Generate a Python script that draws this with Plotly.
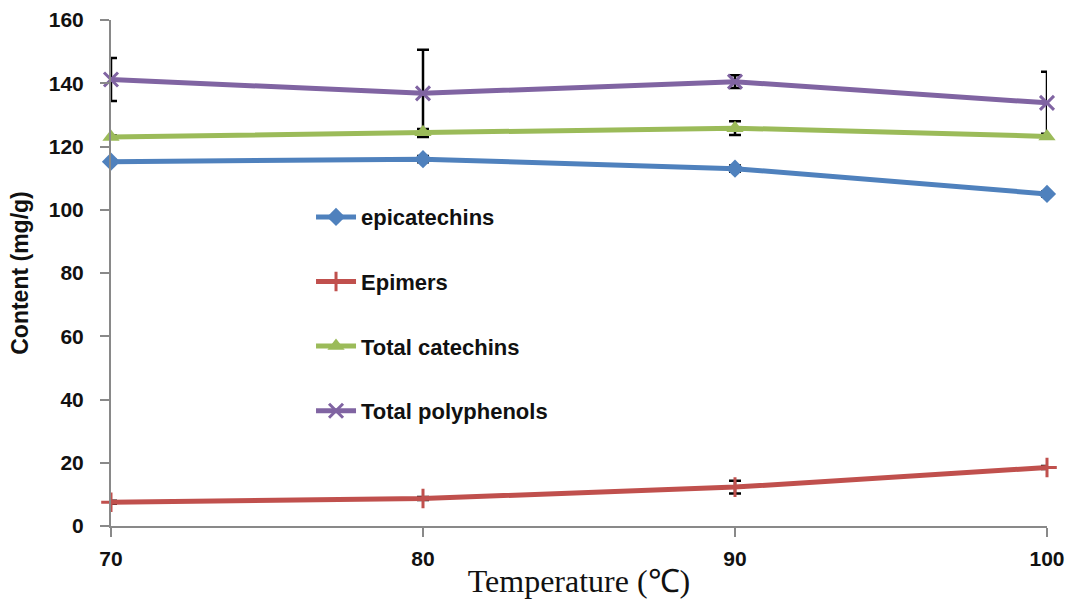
import plotly.graph_objects as go

temps = [70, 80, 90, 100]
epicatechins = [115.2, 116.0, 113.0, 105.0]
epicatechins_err = [0.5, 1.0, 1.0, 0.8]
epimers = [7.5, 8.7, 12.3, 18.5]
epimers_err = [0.5, 0.5, 2.0, 0.5]
total_catechins = [123.0, 124.5, 125.8, 123.2]
total_catechins_err = [0.5, 1.0, 2.2, 0.5]
total_polyphenols = [141.2, 136.8, 140.5, 133.8]
total_polyphenols_err = [6.8, 13.8, 2.0, 9.8]

names = ["epicatechins", "Epimers", "Total catechins", "Total polyphenols"]
series = [epicatechins, epimers, total_catechins, total_polyphenols]
errs = [epicatechins_err, epimers_err, total_catechins_err, total_polyphenols_err]
colors = ["#4F81BD", "#C0504D", "#9BBB59", "#8064A2"]
symbols = ["diamond", "cross-thin", "triangle-up", "x-thin"]
msizes = [14, 14, 15, 14]

fig = go.Figure()

# error bars (clipped to plot area)
for s, e in zip(series, errs):
    fig.add_trace(go.Scatter(
        x=temps, y=s, mode="markers", marker=dict(size=1, color="rgba(0,0,0,0)"),
        error_y=dict(type="data", array=e, color="black", thickness=2.5, width=6),
        showlegend=False, hoverinfo="skip", cliponaxis=True))

for i, (n, s, c, sym, ms) in enumerate(zip(names, series, colors, symbols, msizes)):
    if sym.endswith("-thin"):
        marker = dict(symbol=sym, size=ms, color=c, line=dict(color=c, width=3))
    else:
        marker = dict(symbol=sym, size=ms, color=c, line=dict(width=0))
    fig.add_trace(go.Scatter(
        x=temps, y=s, mode="lines+markers", name=n,
        line=dict(color=c, width=5), marker=marker,
        legendgroup=n, cliponaxis=False))

tickfont = dict(family="Liberation Sans", size=21, color="#111111", weight="bold")

fig.update_layout(
    width=1076, height=600,
    margin=dict(l=111, r=29, t=20, b=74, autoexpand=False),
    plot_bgcolor="white", paper_bgcolor="white",
    showlegend=True,
    legend=dict(x=0.2137, y=0.652, xanchor="left", yanchor="top",
                font=dict(family="Liberation Sans", size=22, color="#111111", weight="bold"),
                tracegroupgap=33, bgcolor="rgba(0,0,0,0)", itemwidth=40),
    xaxis=dict(range=[70, 100], tickvals=temps, ticktext=[str(t) for t in temps],
               automargin=False,
               showgrid=False, zeroline=False, showline=True, linecolor="#898989",
               linewidth=2, ticks="outside", ticklen=9, tickwidth=2, tickcolor="#898989",
               tickfont=tickfont, ticklabelstandoff=4,
               title=dict(text="Temperature (℃)", standoff=0,
                          font=dict(family="Liberation Serif", size=32, color="#111111"))),
    yaxis=dict(range=[0, 160], tickvals=list(range(0, 161, 20)),
               automargin=False,
               showgrid=False, zeroline=False, showline=True, linecolor="#898989",
               linewidth=2, ticks="outside", ticklen=9, tickwidth=2, tickcolor="#898989",
               tickfont=tickfont, ticklabelstandoff=12,
               title=dict(text="Content (mg/g)", standoff=14,
                          font=dict(family="Liberation Sans", size=23, color="#111111",
                                    weight="bold"))),
)

fig.write_html("out.html")
